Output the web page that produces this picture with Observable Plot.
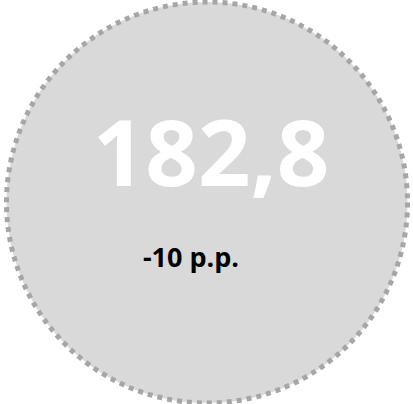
<!DOCTYPE html>
<html>
<head>
<meta charset="utf-8">
<script src="https://cdn.jsdelivr.net/npm/d3@7"></script>
<script src="https://cdn.jsdelivr.net/npm/@observablehq/plot@0.6"></script>
<style>
  html, body { margin: 0; padding: 0; background: #fff; }
  svg { display: block; }
</style>
</head>
<body>
<div id="chart"></div>
<script>
// Data
const mainValue = [182.8];
const changePP = [-10];
const mainLabels = ["182,8"];
const changeLabels = ["-10 p.p."];

const W = 413, H = 404;
const chart = Plot.plot({
  width: W,
  height: H,
  margin: 0,
  x: {domain: [0, W], axis: null},
  y: {domain: [0, H], reverse: true, axis: null},
  style: {background: "transparent"},
  marks: [
    Plot.dot([0], {x: () => 206.5, y: () => 202, r: 200.5,
      fill: "#d9d9d9", stroke: "#a6a6a6", strokeWidth: 5, strokeDasharray: "5,5"}),
    Plot.text(mainValue, {x: () => 210.5, y: () => 185, text: (d, i) => mainLabels[i],
      fill: "#ffffff", fontSize: 92, fontWeight: "bold", fontFamily: "Open Sans",
      lineAnchor: "bottom", textAnchor: "middle"}),
    Plot.text(changePP, {x: () => 190.5, y: () => 266, text: (d, i) => changeLabels[i],
      fill: "#000000", fontSize: 27, fontWeight: "bold", fontFamily: "Open Sans",
      lineAnchor: "bottom", textAnchor: "middle"})
  ]
});
document.getElementById("chart").appendChild(chart);
</script>
</body>
</html>
